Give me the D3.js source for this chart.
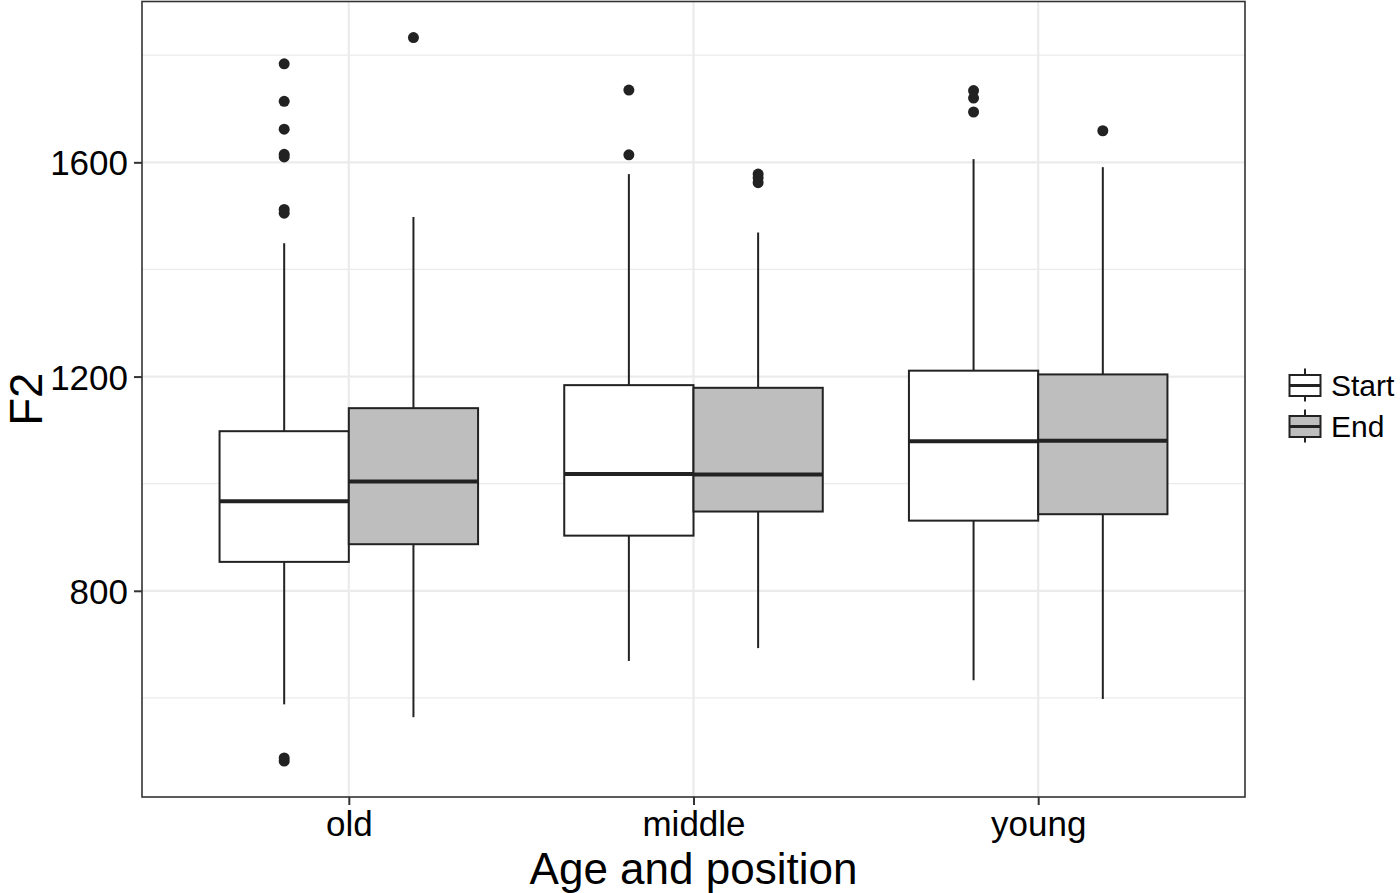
<!DOCTYPE html>
<html>
<head>
<meta charset="utf-8">
<script src="https://cdn.jsdelivr.net/npm/d3@7"></script>
<style>
  body { margin: 0; background: #fff; }
  text { font-family: "Liberation Sans", Arial, Helvetica, sans-serif; }
</style>
</head>
<body>
<svg id="canvas" width="1400" height="893"></svg>
<script>
// box stats, one entry per box (age x position)
let ages = ["old", "middle", "young"];
let positions = ["Start", "End"];
let boxAge = ["old", "old", "middle", "middle", "young", "young"];
let boxPos = ["Start", "End", "Start", "End", "Start", "End"];
let whiskerLow = [588, 564, 669, 693, 633, 598];
let lowerQ = [854, 887, 903, 948, 931, 943];
let median = [967, 1004, 1018, 1017, 1079, 1080];
let upperQ = [1098, 1141, 1184, 1179, 1211, 1204];
let whiskerHigh = [1449, 1498, 1578, 1469, 1606, 1591];
let outliers = [
  [1784, 1714, 1662, 1615, 1610, 1512, 1505, 488, 482],
  [1833],
  [1735, 1614],
  [1578, 1571, 1562],
  [1734, 1720, 1694],
  [1659]
];
let yTicks = [800, 1200, 1600];
let yMinor = [600, 1000, 1400, 1800];
let fills = { Start: "#ffffff", End: "#bebebe" };

let canvas = d3.select("#canvas");
let panel = { left: 142, right: 1245, top: 1.5, bottom: 797 };
let ink = "#222222";

let x = d3.scalePoint()
  .domain(ages)
  .range([panel.left, panel.right])
  .padding(0.6);
let step = x.step();
let dodge = d3.scaleBand()
  .domain(positions)
  .range([-0.375 * step, 0.375 * step]);
let y = d3.scaleLinear()
  .domain([415, 1900.3])
  .range([panel.bottom, panel.top]);

// grid
canvas.append("g")
  .selectAll("line")
  .data(yMinor)
  .enter()
  .append("line")
  .attr("x1", panel.left).attr("x2", panel.right)
  .attr("y1", (d) => y(d)).attr("y2", (d) => y(d))
  .attr("stroke", "#ebebeb").attr("stroke-width", 1.2);
canvas.append("g")
  .selectAll("line")
  .data(yTicks)
  .enter()
  .append("line")
  .attr("x1", panel.left).attr("x2", panel.right)
  .attr("y1", (d) => y(d)).attr("y2", (d) => y(d))
  .attr("stroke", "#ebebeb").attr("stroke-width", 2.2);
canvas.append("g")
  .selectAll("line")
  .data(ages)
  .enter()
  .append("line")
  .attr("x1", (d) => x(d)).attr("x2", (d) => x(d))
  .attr("y1", panel.top).attr("y2", panel.bottom)
  .attr("stroke", "#ebebeb").attr("stroke-width", 2.2);

// boxes
let boxes = canvas.append("g")
  .selectAll("g")
  .data(boxAge.map((a, i) => i))
  .enter()
  .append("g");

let cx = (i) => x(boxAge[i]) + dodge(boxPos[i]) + dodge.bandwidth() / 2;
let left = (i) => x(boxAge[i]) + dodge(boxPos[i]);

boxes.append("line")
  .attr("x1", cx).attr("x2", cx)
  .attr("y1", (i) => y(whiskerHigh[i])).attr("y2", (i) => y(upperQ[i]))
  .attr("stroke", ink).attr("stroke-width", 2);
boxes.append("line")
  .attr("x1", cx).attr("x2", cx)
  .attr("y1", (i) => y(lowerQ[i])).attr("y2", (i) => y(whiskerLow[i]))
  .attr("stroke", ink).attr("stroke-width", 2);
boxes.append("rect")
  .attr("x", left)
  .attr("width", dodge.bandwidth())
  .attr("y", (i) => y(upperQ[i]))
  .attr("height", (i) => y(lowerQ[i]) - y(upperQ[i]))
  .attr("fill", (i) => fills[boxPos[i]])
  .attr("stroke", ink).attr("stroke-width", 2);
boxes.append("line")
  .attr("x1", left).attr("x2", (i) => left(i) + dodge.bandwidth())
  .attr("y1", (i) => y(median[i])).attr("y2", (i) => y(median[i]))
  .attr("stroke", ink).attr("stroke-width", 4);
boxes.selectAll("circle")
  .data((i) => outliers[i].map((v) => ({ i: i, v: v })))
  .enter()
  .append("circle")
  .attr("cx", (d) => cx(d.i))
  .attr("cy", (d) => y(d.v))
  .attr("r", 5.5)
  .attr("fill", ink);

// panel border
canvas.append("rect")
  .attr("x", panel.left).attr("y", panel.top)
  .attr("width", panel.right - panel.left)
  .attr("height", panel.bottom - panel.top)
  .attr("fill", "none")
  .attr("stroke", "#333333").attr("stroke-width", 1.6);

// axes
let yAxis = canvas.append("g")
  .attr("transform", "translate(" + panel.left + ",0)")
  .call(d3.axisLeft(y).tickValues(yTicks).tickFormat(d3.format("d")).tickSize(8).tickPadding(6));
let xAxis = canvas.append("g")
  .attr("transform", "translate(0," + panel.bottom + ")")
  .call(d3.axisBottom(x).tickSize(8).tickPadding(6));
[yAxis, xAxis].forEach((ax) => {
  ax.select(".domain").remove();
  ax.selectAll(".tick line").attr("stroke", "#333333").attr("stroke-width", 2);
  ax.selectAll(".tick text")
    .attr("fill", "#000")
    .style("font-size", "35px")
    .style("font-family", "'Liberation Sans', Arial, sans-serif");
});
yAxis.selectAll(".tick text").attr("dy", "0.36em");
xAxis.selectAll(".tick text").attr("dy", "0.71em");

// titles
canvas.append("text")
  .attr("x", (panel.left + panel.right) / 2)
  .attr("y", 883.5)
  .attr("text-anchor", "middle")
  .style("font-size", "44px")
  .text("Age and position");
canvas.append("text")
  .attr("transform", "translate(42," + (panel.top + panel.bottom) / 2 + ") rotate(-90)")
  .attr("text-anchor", "middle")
  .style("font-size", "45.5px")
  .text("F2");

// legend
let legend = canvas.append("g")
  .selectAll("g")
  .data(positions)
  .enter()
  .append("g")
  .attr("transform", (d, i) => "translate(1305," + (385.5 + i * 41) + ")");
legend.append("line")
  .attr("y1", -17).attr("y2", 16)
  .attr("stroke", ink).attr("stroke-width", 2);
legend.append("rect")
  .attr("x", -15.5).attr("y", -10.5)
  .attr("width", 31).attr("height", 21)
  .attr("fill", (d) => fills[d])
  .attr("stroke", ink).attr("stroke-width", 2);
legend.append("line")
  .attr("x1", -15.5).attr("x2", 15.5)
  .attr("stroke", ink).attr("stroke-width", 3);
legend.append("text")
  .attr("x", 26)
  .attr("dy", "0.36em")
  .style("font-size", "30px")
  .text((d) => d);
</script>
</body>
</html>
